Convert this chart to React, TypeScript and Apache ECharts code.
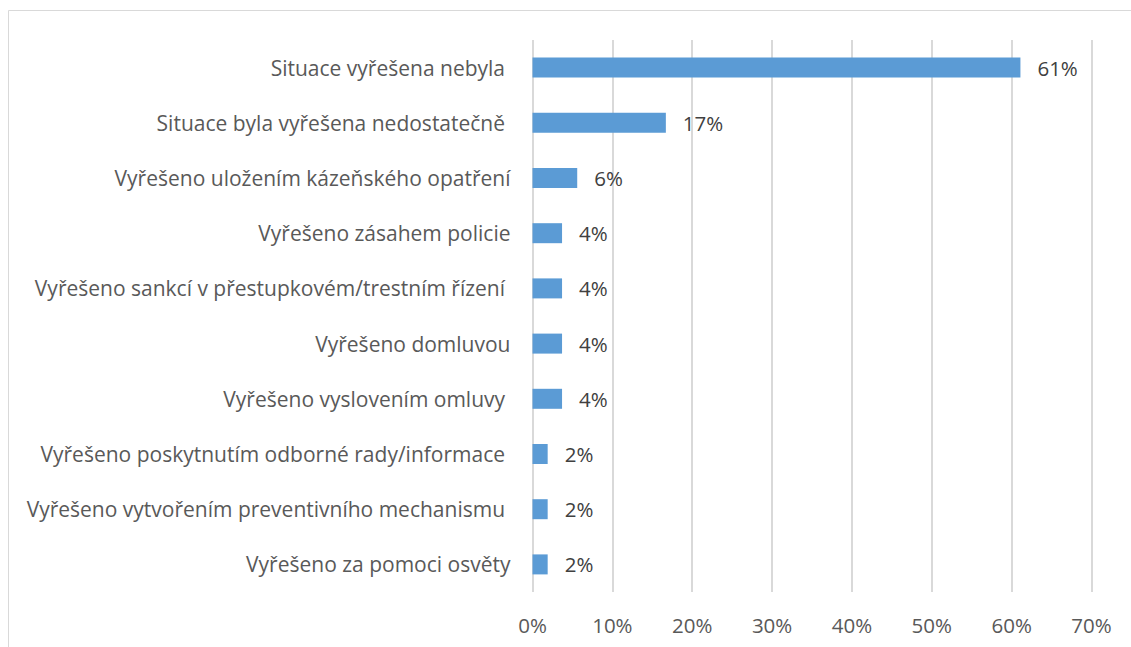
import React, { useEffect, useRef } from "react";
import * as echarts from "echarts";

const categories = [
  "Situace vyřešena nebyla\u00a0",
  "Situace byla vyřešena nedostatečně\u00a0",
  "Vyřešeno uložením kázeňského opatření",
  "Vyřešeno zásahem policie",
  "Vyřešeno sankcí v přestupkovém/trestním řízení\u00a0",
  "Vyřešeno domluvou",
  "Vyřešeno vyslovením omluvy\u00a0",
  "Vyřešeno poskytnutím odborné rady/informace\u00a0",
  "Vyřešeno vytvořením preventivního mechanismu\u00a0",
  "Vyřešeno za pomoci osvěty",
];
const values = [61.1, 16.7, 5.6, 3.7, 3.7, 3.7, 3.7, 1.9, 1.9, 1.9];
const axisMax = 70;
const axisInterval = 10;

const FONT = "'Open Sans', sans-serif";
const FS = 20.5;
const CAT_FS = 21;

export default function App() {
  const ref = useRef<HTMLDivElement>(null);
  useEffect(() => {
    if (!ref.current) return;
    const chart = echarts.init(ref.current, null, { renderer: "svg" });
    chart.setOption({
      animation: false,
      backgroundColor: "#ffffff",
      textStyle: { fontFamily: FONT },
      graphic: [
        {
          type: "rect",
          shape: { x: 8.5, y: 10.5, width: 1140, height: 660 },
          style: { fill: "none", stroke: "#d9d9d9", lineWidth: 1 },
          silent: true,
        },
      ],
      grid: { left: 532.5, right: 1131 - 1091.5, top: 40, bottom: 647 - 592, containLabel: false },
      xAxis: {
        type: "value",
        min: 0,
        max: axisMax,
        interval: axisInterval,
        axisLine: { show: false },
        axisTick: { show: false },
        splitLine: { show: true, lineStyle: { color: "#d9d9d9", width: 2 } },
        axisLabel: {
          color: "#595959",
          fontSize: FS,
          fontFamily: FONT,
          margin: 22,
          formatter: (v: number) => `${v}%`,
        },
      },
      yAxis: {
        type: "category",
        data: categories,
        inverse: true,
        axisLine: { show: false },
        axisTick: { show: false },
        axisLabel: { color: "#595959", fontSize: CAT_FS, fontFamily: FONT, margin: 22 },
      },
      series: [
        {
          type: "bar",
          data: values,
          barWidth: 20,
          itemStyle: { color: "#5b9bd5" },
          label: {
            show: true,
            position: "right",
            distance: 17,
            color: "#404040",
            fontSize: FS,
            fontFamily: FONT,
            formatter: (p: any) => `${Math.round(p.value)}%`,
          },
        },
      ],
    });
    return () => chart.dispose();
  }, []);
  return (
    <div
      ref={ref}
      style={{ position: "absolute", left: 0, top: 0, width: 1131, height: 647 }}
    />
  );
}
